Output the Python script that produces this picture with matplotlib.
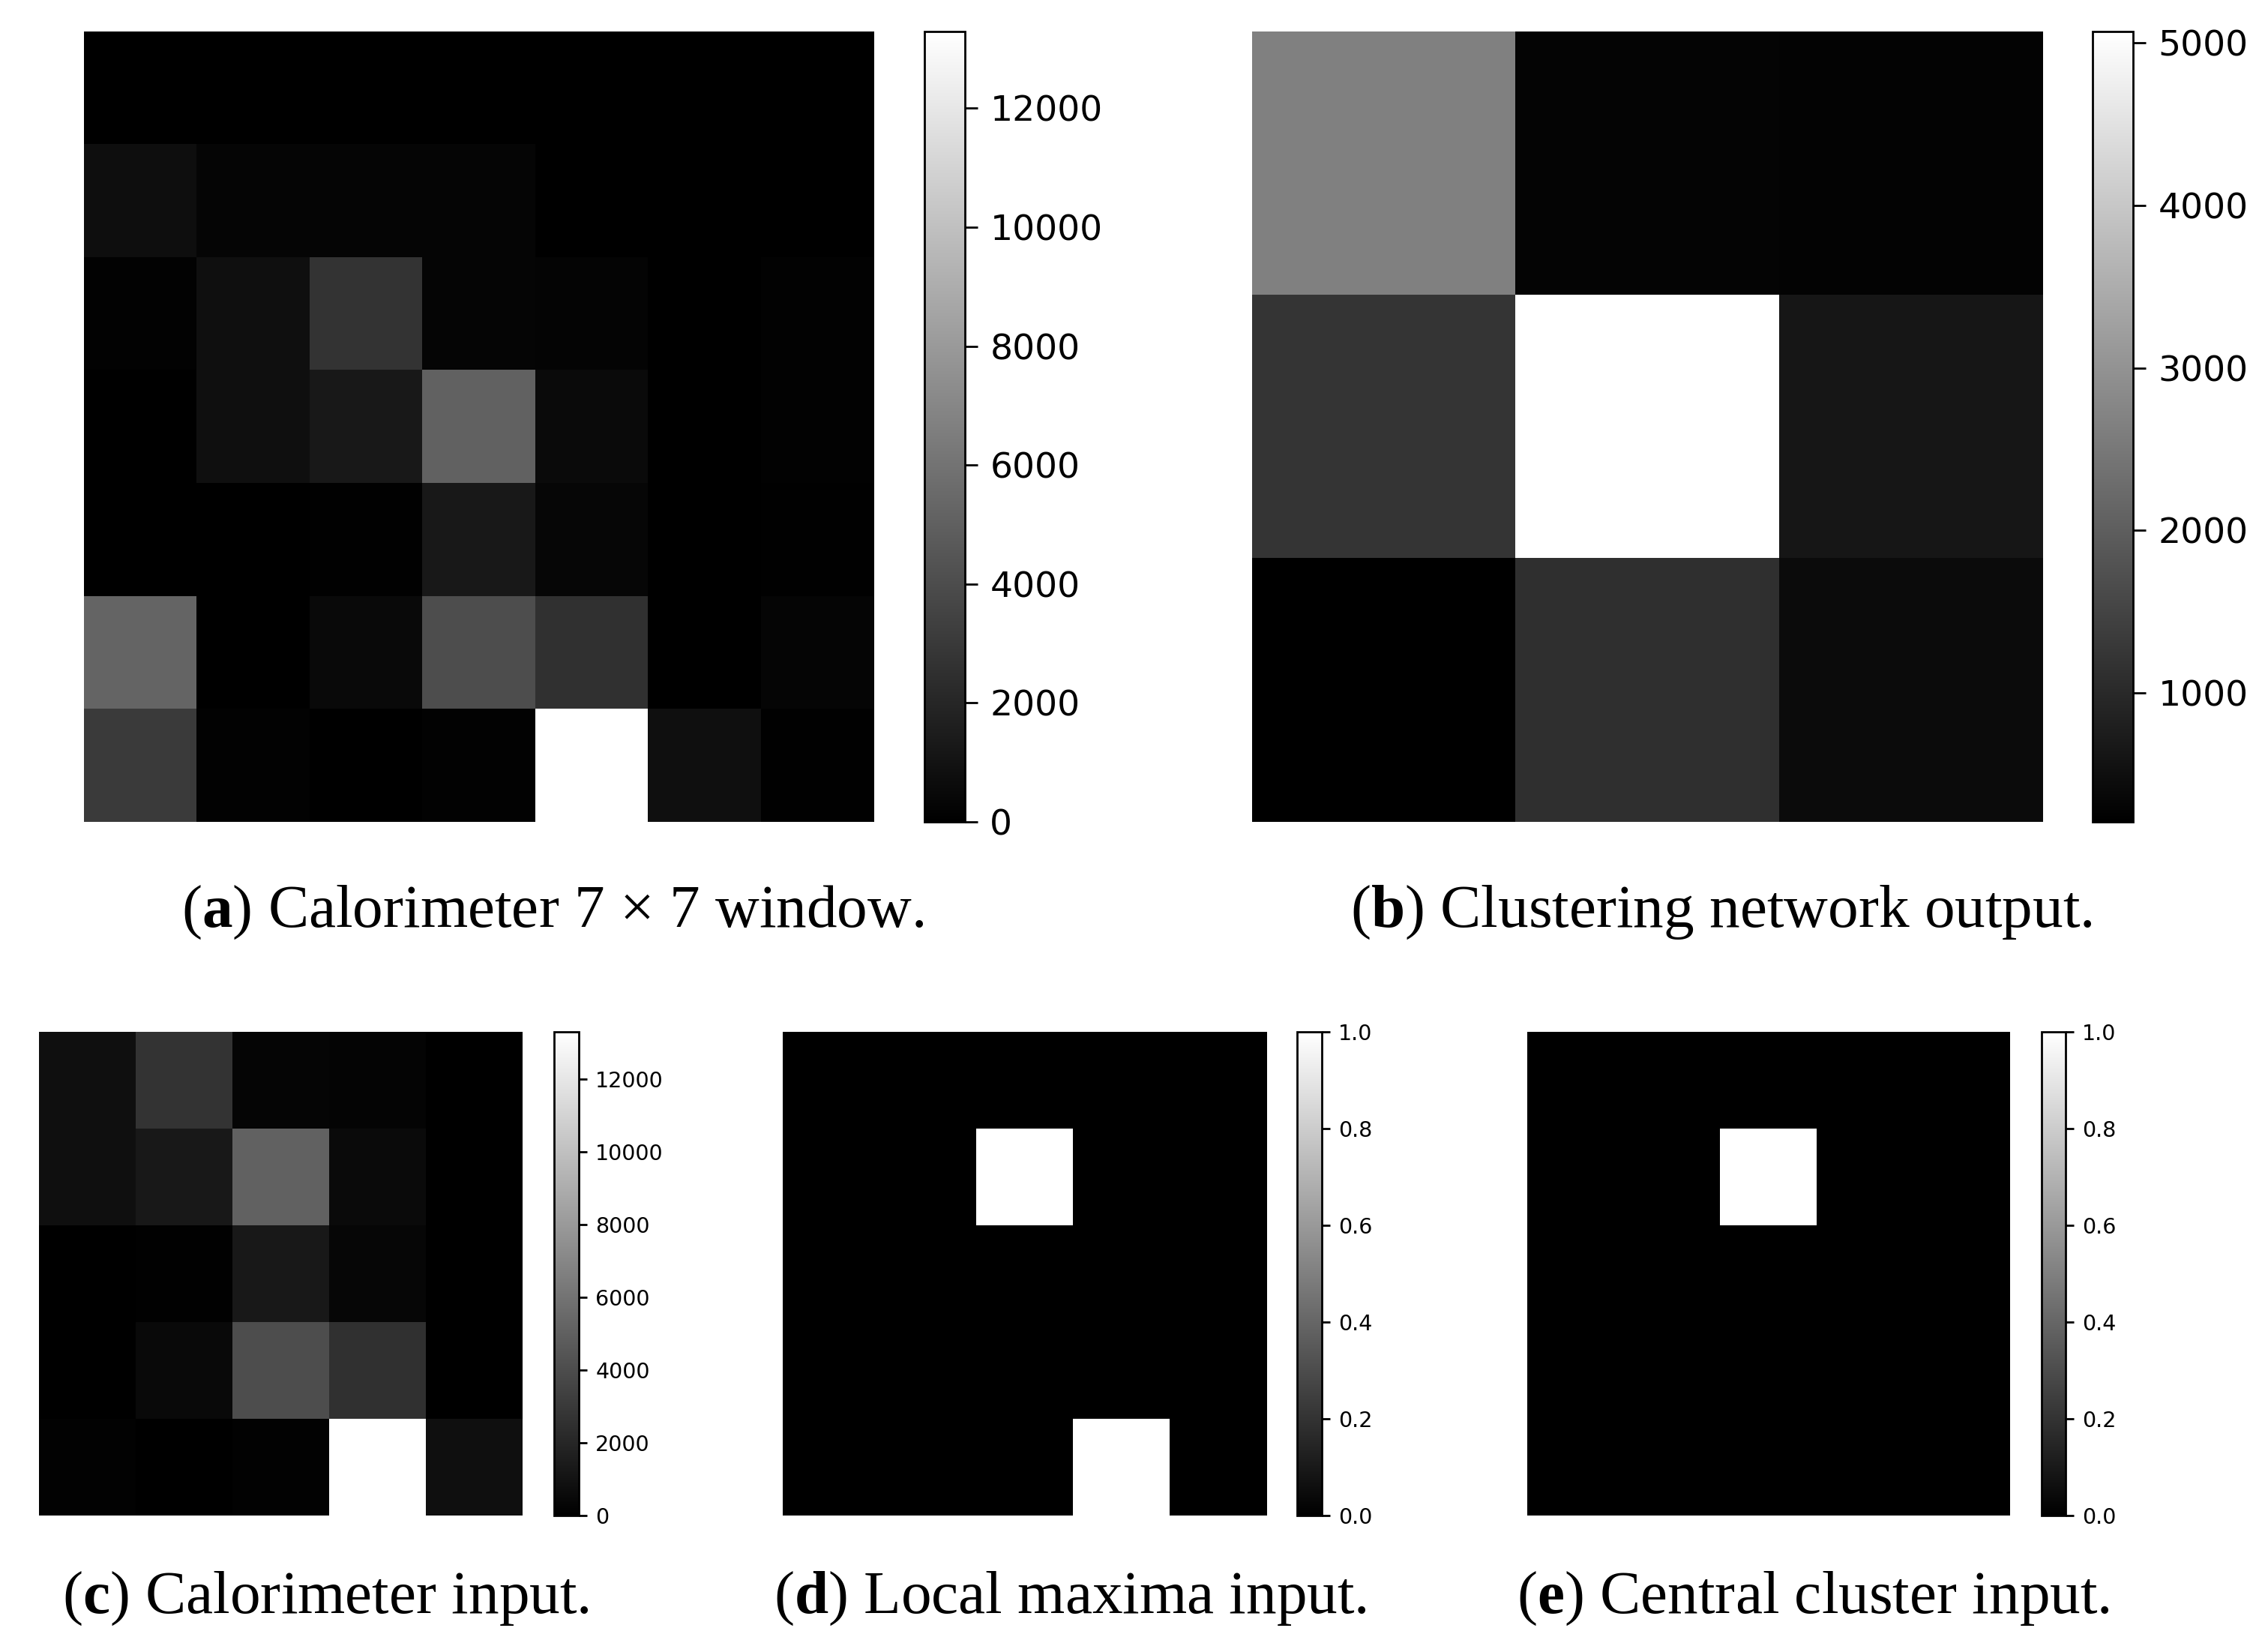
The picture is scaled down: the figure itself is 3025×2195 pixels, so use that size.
#!/usr/bin/env python3
import numpy as np
import matplotlib
matplotlib.use('Agg')
import matplotlib.pyplot as plt

plt.rcParams['mathtext.fontset'] = 'custom'
plt.rcParams['mathtext.rm'] = 'Liberation Serif'
plt.rcParams['mathtext.bf'] = 'Liberation Serif:bold'

# calorimeter window, read from the grey levels
calo_7x7 = [
    [30, 20, 20, 10, 10, 10, 10],
    [730, 260, 310, 260, 30, 20, 20],
    [150, 830, 2660, 260, 210, 50, 150],
    [20, 830, 1250, 5100, 570, 50, 150],
    [50, 20, 100, 1250, 360, 50, 100],
    [5210, 50, 470, 4000, 2500, 50, 260],
    [3020, 150, 10, 150, 13290, 830, 100],
]
cluster_out = [
    [2649, 283, 264],
    [1218, 5071, 627],
    [207, 1103, 417],
]
local_maxima = [
    [0, 0, 0, 0, 0],
    [0, 0, 1, 0, 0],
    [0, 0, 0, 0, 0],
    [0, 0, 0, 0, 0],
    [0, 0, 0, 1, 0],
]
central_cluster = [
    [0, 0, 0, 0, 0],
    [0, 0, 1, 0, 0],
    [0, 0, 0, 0, 0],
    [0, 0, 0, 0, 0],
    [0, 0, 0, 0, 0],
]
calo_ticks = [0, 2000, 4000, 6000, 8000, 10000, 12000]
cluster_ticks = [1000, 2000, 3000, 4000, 5000]
unit_ticks = [0.0, 0.2, 0.4, 0.6, 0.8, 1.0]

W, H = 3025, 2195
fig = plt.figure(figsize=(W / 100, H / 100), dpi=100)


def px_axes(x0, y0, x1, y1):
    # pixel box measured from the top left of the picture
    return fig.add_axes([x0 / W, 1 - y1 / H, (x1 - x0) / W, (y1 - y0) / H])


def panel(data, box, cbox, ticks, fs, tlen, vmin=None, vmax=None):
    ax = px_axes(*box)
    im = ax.imshow(np.array(data, dtype=float), cmap='gray', vmin=vmin, vmax=vmax,
                   aspect='auto', interpolation='nearest')
    ax.axis('off')
    cax = px_axes(*cbox)
    cb = fig.colorbar(im, cax=cax, ticks=ticks)
    cb.ax.tick_params(labelsize=fs, length=tlen, width=2, pad=tlen)
    cb.outline.set_linewidth(2)
    return ax


calo = np.array(calo_7x7, dtype=float)
panel(calo_7x7, (112, 42, 1166, 1096), (1233, 42, 1287, 1096), calo_ticks, 34, 12, 0, 13290)
panel(cluster_out, (1670, 42, 2725, 1096), (2791, 42, 2845, 1096), cluster_ticks, 34, 12, 207, 5071)
panel(calo[2:, 1:6], (52, 1376, 697, 2021), (739, 1376, 772, 2021), calo_ticks, 20.5, 8, 0, 13290)
panel(local_maxima, (1044, 1376, 1690, 2021), (1730, 1376, 1763, 2021), unit_ticks, 20.5, 8, 0, 1)
panel(central_cluster, (2037, 1376, 2681, 2021), (2723, 1376, 2755, 2021), unit_ticks, 20.5, 8, 0, 1)

captions = [
    (737, 1236, r'($\mathbf{a}$) Calorimeter 7 × 7 window.'),
    (2296, 1236, r'($\mathbf{b}$) Clustering network output.'),
    (434, 2151, r'($\mathbf{c}$) Calorimeter input.'),
    (1427, 2151, r'($\mathbf{d}$) Local maxima input.'),
    (2418, 2151, r'($\mathbf{e}$) Central cluster input.'),
]
for x, y, txt in captions:
    fig.text(x / W, 1 - y / H, txt, family='Liberation Serif', fontsize=58.5,
             ha='center', va='baseline')

fig.savefig('out.png', dpi=100)
